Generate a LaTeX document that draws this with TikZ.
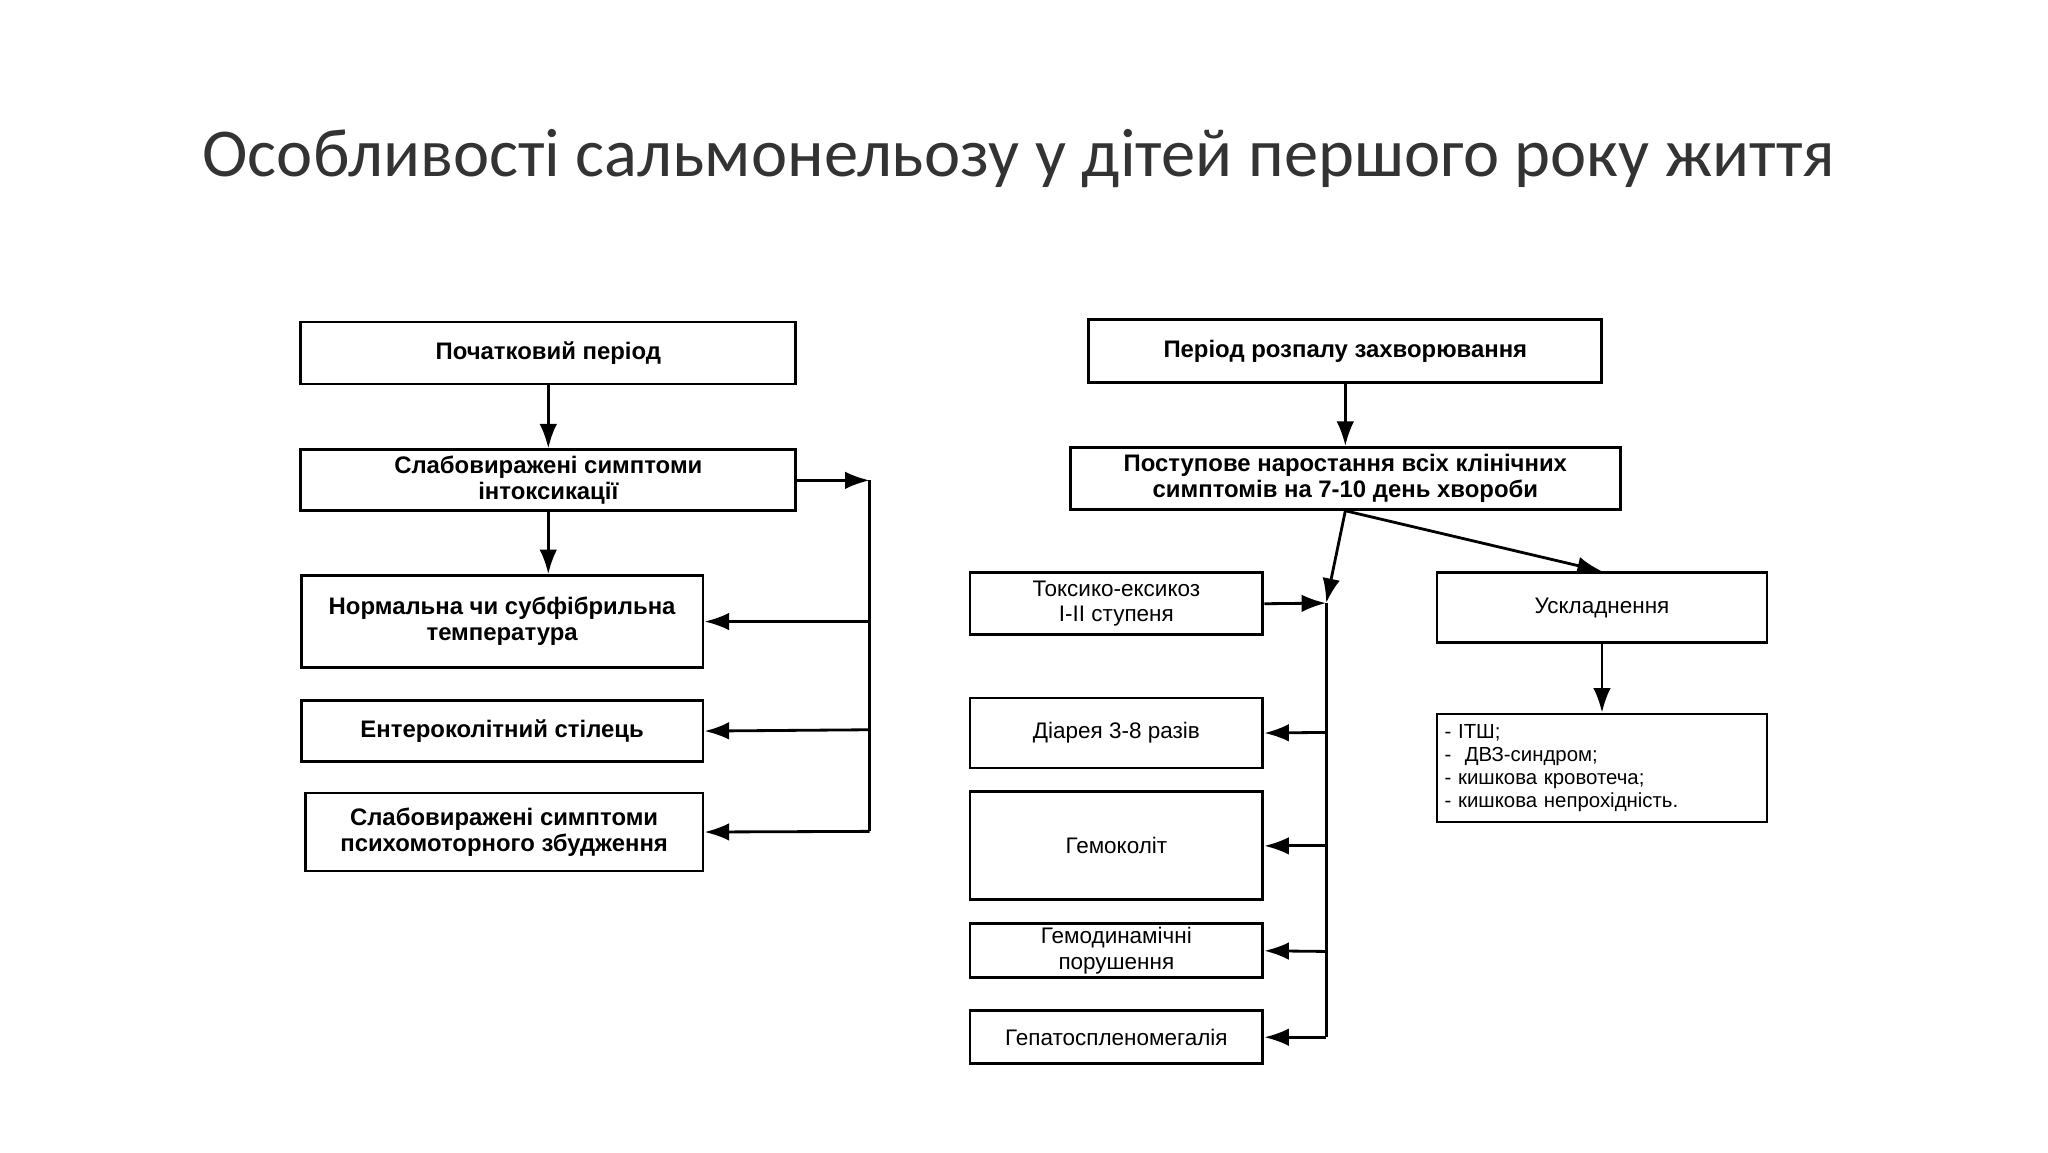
\documentclass[tikz,border=0pt]{standalone}
\usepackage{fontspec}
\setmainfont{Liberation Sans}
\newfontfamily\titlefont{Carlito}
\usetikzlibrary{arrows.meta}
\begin{document}
\begin{tikzpicture}[x=0.013196cm,y=-0.013196cm]
	\useasboundingbox (0,0) rectangle (1552,873);
	\tikzstyle{box}=[draw=black,thick,inner sep=1pt,align=center,font=\fontsize{6.4}{7.2}\selectfont]
	\tikzstyle{bold}=[box,font=\fontsize{6.8}{7.4}\selectfont\bfseries]
	\node[font=\titlefont\fontsize{19.5}{22}\selectfont\addfontfeature{Color=333333}] (title) at (772,120) {Особливості сальмонельозу у дітей першого року життя};

	% left column
	\node[bold,minimum width=4.95cm,minimum height=0.62cm] (A) at (415.5,267.5) {Початковий період};
	\node[bold,minimum width=4.95cm,minimum height=0.61cm] (B) at (415.5,364) {Слабовиражені симптоми\\інтоксикації};
	\node[bold,minimum width=4.02cm,minimum height=0.92cm] (C) at (380.5,471) {Нормальна чи субфібрильна\\температура};
	\node[bold,minimum width=4.02cm,minimum height=0.61cm] (D) at (380.5,554) {Ентероколітний стілець};
	\node[bold,minimum width=3.98cm,minimum height=0.78cm] (E) at (382,630.5) {Слабовиражені симптоми\\психомоторного збудження};
	\coordinate (lt) at (659,364);
	\coordinate (lc) at (659,471);
	\coordinate (ld) at (659,553);
	\coordinate (le) at (659,630);

	% right column
	\node[bold,minimum width=5.13cm,minimum height=0.63cm] (F) at (1019.5,266) {Період розпалу захворювання};
	\node[bold,minimum width=5.5cm,minimum height=0.62cm] (G) at (1019.5,362.5) {Поступове наростання всіх клінічних\\симптомів на 7-10 день хвороби};
	\node[box,minimum width=2.93cm,minimum height=0.62cm] (H) at (846,457.5) {Токсико-ексикоз\\I-II ступеня};
	\node[box,minimum width=3.3cm,minimum height=0.70cm] (I) at (1214,460.5) {Ускладнення};
	\node[box,minimum width=3.3cm,minimum height=1.08cm,align=left,text width=3.15cm,font=\fontsize{5.8}{6.6}\selectfont] (J) at (1214,582) {- ІТШ;\\-\ \ ДВЗ-синдром;\\- кишкова кровотеча;\\- кишкова непрохідність.};
	\node[box,minimum width=2.93cm,minimum height=0.70cm] (K) at (846,555.5) {Діарея 3-8 разів};
	\node[box,minimum width=2.93cm,minimum height=1.08cm] (L) at (846,641) {Гемоколіт};
	\node[box,minimum width=2.93cm,minimum height=0.54cm] (M) at (846,720.5) {Гемодинамічні\\порушення};
	\node[box,minimum width=2.93cm,minimum height=0.53cm] (N) at (846,786) {Гепатоспленомегалія};
	\coordinate (rt) at (1005,457);
	\coordinate (rk) at (1005,555);
	\coordinate (rl) at (1005,641);
	\coordinate (rm) at (1005,721);
	\coordinate (rn) at (1005,786);

	\begin{scope}[-{Latex[length=7pt,width=5pt]}, thick]
		\draw	(A) -- (B);
		\draw	(B.south) -- (B.south |- C.north);
		\draw	(B.east) -- (lt);
		\draw	(lc) -- (C.east);
		\draw	(ld) -- (D.east);
		\draw	(le) -- (E.east);
		\draw	(F) -- (G);
		\draw	(G.south) -- (rt);
		\draw	(G.south) -- (I.north);
		\draw	(H.east) -- (rt);
		\draw	(rk) -- (K.east);
		\draw	(rl) -- (L.east);
		\draw	(rm) -- (M.east);
		\draw	(rn) -- (N.east);
		\draw	(I) -- (J);
	\end{scope}
	\draw[thick] (lt) -- (le);
	\draw[thick] (rt) -- (rn);
\end{tikzpicture}
\end{document}
